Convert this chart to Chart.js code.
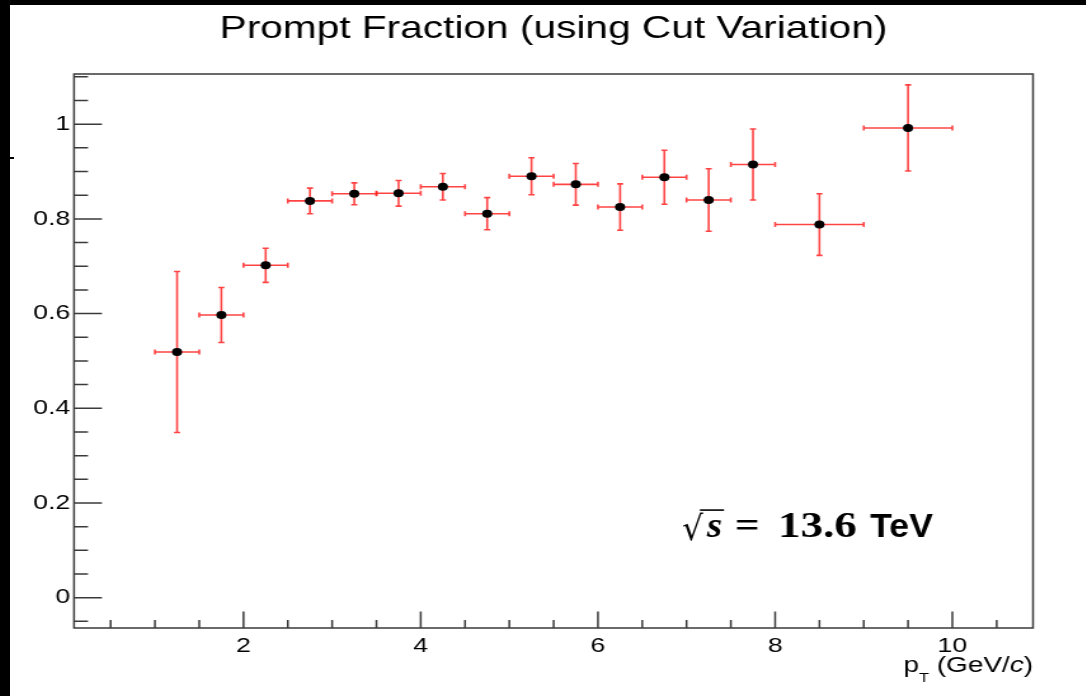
<!DOCTYPE html>
<html>
<head>
<meta charset="utf-8">
<script src="https://cdn.jsdelivr.net/npm/chart.js@4/dist/chart.umd.min.js"></script>
<style>
  html, body { margin: 0; padding: 0; background: #000; width: 1086px; height: 696px; overflow: hidden; }
  #frame { position: absolute; left: 10px; top: 5px; width: 1076px; height: 691px; background: #fff; overflow: hidden; }
  #plot { position: absolute; left: 0; top: 0; transform-origin: 0 0; }
  #nick { position: absolute; left: 10px; top: 157px; width: 4px; height: 2px; background: #000; }
</style>
</head>
<body>
<div id="frame"><canvas id="plot" width="847" height="691"></canvas></div>
<div id="nick"></div>
<script>
// pT bins (GeV/c): centre and half width
const ptCenters = [1.25, 1.75, 2.25, 2.75, 3.25, 3.75, 4.25, 4.75, 5.25, 5.75, 6.25, 6.75, 7.25, 7.75, 8.5, 9.5];
const ptHalfWidth = [0.25, 0.25, 0.25, 0.25, 0.25, 0.25, 0.25, 0.25, 0.25, 0.25, 0.25, 0.25, 0.25, 0.25, 0.5, 0.5];
// prompt fraction and its uncertainty
const fraction = [0.519, 0.597, 0.702, 0.838, 0.853, 0.854, 0.868, 0.811, 0.890, 0.873, 0.825, 0.888, 0.840, 0.915, 0.788, 0.992];
const fractionErr = [0.170, 0.058, 0.036, 0.027, 0.023, 0.027, 0.028, 0.034, 0.039, 0.044, 0.049, 0.057, 0.066, 0.075, 0.065, 0.091];

// axis ticks
const xMajorTicks = [2, 4, 6, 8, 10];
const xMinorTicks = [0.5, 1, 1.5, 2.5, 3, 3.5, 4.5, 5, 5.5, 6.5, 7, 7.5, 8.5, 9, 9.5, 10.5];
const yMajorTicks = [0, 0.2, 0.4, 0.6, 0.8, 1];
const yMinorTicks = [-0.05, 0.05, 0.1, 0.15, 0.25, 0.3, 0.35, 0.45, 0.5, 0.55, 0.65, 0.7, 0.75, 0.85, 0.9, 0.95, 1.05, 1.1];

const titleText = 'Prompt Fraction (using Cut Variation)';

// the source picture is stretched sideways, so the canvas is too
const stretch = 1.27;
document.getElementById('plot').style.transform = 'scaleX(' + stretch + ')';

const sansFont = '"Liberation Sans", Arial, sans-serif';
const serifFont = '"Liberation Serif", "DejaVu Serif", serif';
const axisColor = '#3a3a3a';
const barColor = 'rgba(255, 20, 20, 0.8)';

// draw text squeezed to a given width
function fitText(c, text, font, x, y, width) {
    c.font = font;
    const w = c.measureText(text).width;
    c.save();
    c.translate(x, y);
    c.scale(width / w, 1);
    c.fillText(text, 0, 0);
    c.restore();
}

const rootStyle = {
    id: 'rootStyle',
    beforeDatasetsDraw(chart) {
        const c = chart.ctx;
        const xs = chart.scales.x, ys = chart.scales.y;
        c.save();
        c.strokeStyle = barColor;
        c.lineWidth = 1.6;
        for (let i = 0; i < ptCenters.length; i++) {
            const px = xs.getPixelForValue(ptCenters[i]);
            const py = ys.getPixelForValue(fraction[i]);
            const xl = xs.getPixelForValue(ptCenters[i] - ptHalfWidth[i]);
            const xr = xs.getPixelForValue(ptCenters[i] + ptHalfWidth[i]);
            const yt = ys.getPixelForValue(fraction[i] + fractionErr[i]);
            const yb = ys.getPixelForValue(fraction[i] - fractionErr[i]);
            c.beginPath();
            c.moveTo(xl, py); c.lineTo(xr, py);
            c.moveTo(px, yt); c.lineTo(px, yb);
            // end caps
            c.moveTo(xl, py - 2.5); c.lineTo(xl, py + 2.5);
            c.moveTo(xr, py - 2.5); c.lineTo(xr, py + 2.5);
            c.moveTo(px - 2.4, yt); c.lineTo(px + 2.4, yt);
            c.moveTo(px - 2.4, yb); c.lineTo(px + 2.4, yb);
            c.stroke();
        }
        c.restore();
    },
    afterDraw(chart) {
        const c = chart.ctx;
        const a = chart.chartArea;
        const xs = chart.scales.x, ys = chart.scales.y;
        c.save();

        // frame
        c.strokeStyle = axisColor;
        c.lineWidth = 1.5;
        c.strokeRect(a.left, a.top, a.right - a.left, a.bottom - a.top);

        // ticks pointing inwards, like ROOT
        c.beginPath();
        xMajorTicks.forEach(v => { const p = xs.getPixelForValue(v); c.moveTo(p, a.bottom); c.lineTo(p, a.bottom - 16.5); });
        xMinorTicks.forEach(v => { const p = xs.getPixelForValue(v); c.moveTo(p, a.bottom); c.lineTo(p, a.bottom - 8); });
        yMajorTicks.forEach(v => { const p = ys.getPixelForValue(v); c.moveTo(a.left, p); c.lineTo(a.left + 22, p); });
        yMinorTicks.forEach(v => { const p = ys.getPixelForValue(v); c.moveTo(a.left, p); c.lineTo(a.left + 11, p); });
        c.stroke();

        // title
        c.fillStyle = '#000';
        c.font = '32px ' + sansFont;
        c.textAlign = 'center';
        c.textBaseline = 'alphabetic';
        c.fillText(titleText, (a.left + a.right) / 2, 33);

        // x axis title: p_T (GeV/c), right aligned
        c.textAlign = 'left';
        const fMain = '22px ' + sansFont, fSub = '13px ' + sansFont, fIt = 'italic 22px ' + sansFont;
        const parts = [['p', fMain, 0], ['T', fSub, 10], [' (GeV/', fMain, 0], ['c', fIt, 0], [')', fMain, 0]];
        let w = 0;
        parts.forEach(p => { c.font = p[1]; w += c.measureText(p[0]).width; });
        let tx = a.right - w;
        parts.forEach(p => { c.font = p[1]; c.fillText(p[0], tx, 666.5 + p[2]); tx += c.measureText(p[0]).width; });

        // energy label
        const ex = xs.getPixelForValue(6.95);
        const ey = ys.getPixelForValue(0.128);
        fitText(c, '\u221A', '34px "DejaVu Serif", serif', ex, ey + 3, 16.5);
        fitText(c, 's', 'bold italic 36px ' + serifFont, ex + 19.5, ey, 12);
        c.lineWidth = 1.6;
        c.strokeStyle = '#000';
        c.beginPath(); c.moveTo(ex + 14, ey - 27); c.lineTo(ex + 33, ey - 27); c.stroke();
        fitText(c, '=', 'bold 36px ' + serifFont, ex + 41.5, ey, 19.5);
        fitText(c, '13.6', 'bold 36px ' + serifFont, ex + 75.6, ey, 62);
        fitText(c, 'TeV', 'bold 34px ' + sansFont, ex + 148, ey, 49.5);

        c.restore();
    }
};

const tickFont = { family: sansFont, size: 21 };

new Chart(document.getElementById('plot'), {
    type: 'scatter',
    data: {
        datasets: [{
            data: ptCenters.map((x, i) => ({ x: x, y: fraction[i] })),
            pointRadius: 4,
            pointBackgroundColor: '#000',
            pointBorderColor: '#000',
            pointBorderWidth: 0,
            showLine: false
        }]
    },
    options: {
        responsive: false,
        animation: false,
        devicePixelRatio: 1,
        layout: { padding: { top: 69, right: 41.5, left: 0, bottom: 0 } },
        plugins: {
            legend: { display: false },
            tooltip: { enabled: false },
            title: { display: false }
        },
        scales: {
            x: {
                type: 'linear',
                min: 0.087,
                max: 10.91,
                grid: { display: false, drawTicks: false },
                border: { display: false },
                ticks: { font: tickFont, color: '#000', padding: 6, maxRotation: 0, callback: v => String(v) },
                afterBuildTicks: s => { s.ticks = xMajorTicks.map(v => ({ value: v })); },
                afterFit: s => { s.height = 68; }
            },
            y: {
                type: 'linear',
                min: -0.064,
                max: 1.106,
                grid: { display: false, drawTicks: false },
                border: { display: false },
                ticks: { font: tickFont, color: '#000', padding: 3, callback: v => String(v) },
                afterBuildTicks: s => { s.ticks = yMajorTicks.map(v => ({ value: v })); },
                afterFit: s => { s.width = 50.4; }
            }
        }
    },
    plugins: [rootStyle]
});
</script>
</body>
</html>
